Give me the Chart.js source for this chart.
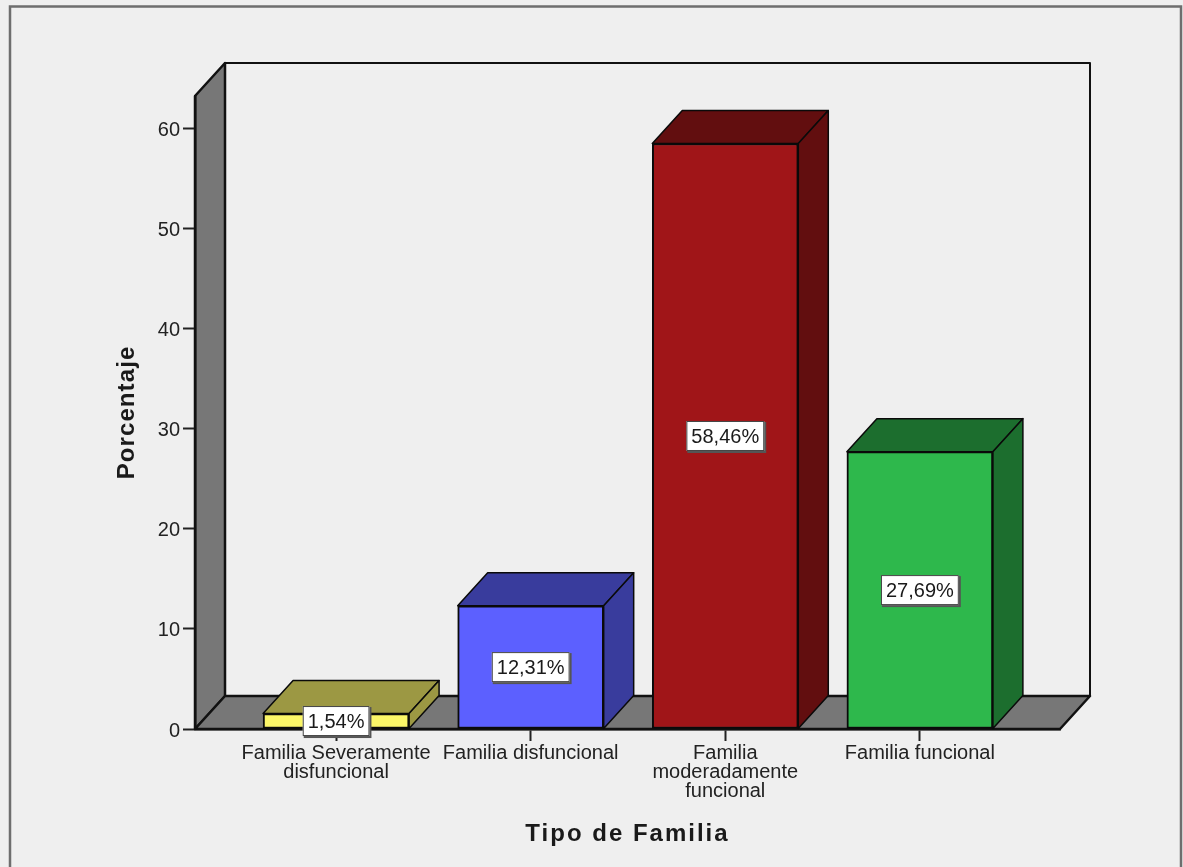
<!DOCTYPE html>
<html>
<head>
<meta charset="utf-8">
<title>Tipo de Familia</title>
<script src="https://cdn.jsdelivr.net/npm/chart.js@4"></script>
<style>
  html, body { margin: 0; background: #efefef; }
  canvas { display: block; }
</style>
</head>
<body>
<canvas id="myChart" width="1183" height="867"></canvas>
<script>
var categories = [
    ['Familia Severamente', 'disfuncional'],
    'Familia disfuncional',
    ['Familia', 'moderadamente', 'funcional'],
    'Familia funcional'
];
var porcentajes = [1.54, 12.31, 58.46, 27.69];
var etiquetas = ['1,54%', '12,31%', '58,46%', '27,69%'];
var frontColors = ['#fbf668', '#5c60ff', '#a01518', '#2eb84c'];
var darkColors = ['#9c9843', '#393c9d', '#620e0f', '#1c6e2e'];

// depth of the box, in pixels
var DX = 30;
var DY = -33;
var FONT = '"Liberation Sans", Arial, sans-serif';

function poly(ctx, pts, fill, stroke, width) {
    ctx.beginPath();
    pts.forEach(function (p, i) {
        if (i === 0) ctx.moveTo(p[0], p[1]);
        else ctx.lineTo(p[0], p[1]);
    });
    ctx.closePath();
    if (fill) {
        ctx.fillStyle = fill;
        ctx.fill();
    }
    if (stroke) {
        ctx.strokeStyle = stroke;
        ctx.lineWidth = width;
        ctx.lineJoin = 'round';
        ctx.stroke();
    }
}

// outer frame, back wall, left wall and floor
var walls = {
    id: 'walls',
    beforeDraw: function (chart) {
        var ctx = chart.ctx;
        var a = chart.chartArea;
        ctx.save();
        ctx.strokeStyle = '#6e6e6e';
        ctx.lineWidth = 2.5;
        ctx.strokeRect(10, 6.5, 1171, 900);
        poly(ctx, [[a.left + DX, a.top + DY], [a.right + DX, a.top + DY], [a.right + DX, a.bottom + DY], [a.left + DX, a.bottom + DY]], '#efefef', '#111', 2);
        poly(ctx, [[a.left, a.top], [a.left + DX, a.top + DY], [a.left + DX, a.bottom + DY], [a.left, a.bottom]], '#777777', '#111', 2.5);
        poly(ctx, [[a.left, a.bottom], [a.left + DX, a.bottom + DY], [a.right + DX, a.bottom + DY], [a.right, a.bottom]], '#777777', '#111', 2.5);
        ctx.restore();
    }
};

// top and side faces behind each bar
var boxes = {
    id: 'boxes',
    beforeDatasetsDraw: function (chart) {
        var ctx = chart.ctx;
        ctx.save();
        chart.getDatasetMeta(0).data.forEach(function (bar, i) {
            var l = bar.x - bar.width / 2;
            var r = bar.x + bar.width / 2;
            var t = bar.y;
            var b = bar.base;
            poly(ctx, [[l, t], [l + DX, t + DY], [r + DX, t + DY], [r, t]], darkColors[i], '#0a0a0a', 1.5);
            poly(ctx, [[r, t], [r + DX, t + DY], [r + DX, b + DY], [r, b]], darkColors[i], '#0a0a0a', 1.5);
        });
        ctx.restore();
    }
};

// white value boxes at the middle of each bar
var valueLabels = {
    id: 'valueLabels',
    afterDatasetsDraw: function (chart) {
        var ctx = chart.ctx;
        ctx.save();
        ctx.font = '20px ' + FONT;
        ctx.textAlign = 'center';
        ctx.textBaseline = 'middle';
        chart.getDatasetMeta(0).data.forEach(function (bar, i) {
            var w = ctx.measureText(etiquetas[i]).width + 10;
            var h = 30;
            var x = bar.x - w / 2;
            var y = (bar.y + bar.base) / 2 - h / 2;
            ctx.fillStyle = '#555';
            ctx.fillRect(x + 1, y + 1, w + 1, h + 1);
            ctx.fillStyle = '#fff';
            ctx.fillRect(x, y, w, h);
            ctx.strokeStyle = '#444';
            ctx.lineWidth = 1;
            ctx.strokeRect(x + 0.5, y + 0.5, w - 1, h - 1);
            ctx.fillStyle = '#1a1a1a';
            ctx.fillText(etiquetas[i], bar.x, y + h / 2 + 1);
        });
        ctx.restore();
    }
};

// axis titles are set with wider tracking than the tick labels
var tracking = {
    id: 'tracking',
    beforeDraw: function (chart) {
        [chart.scales.x, chart.scales.y].forEach(function (scale) {
            if (scale.trackedTitle) return;
            var drawTitle = scale.drawTitle;
            scale.drawTitle = function () {
                var ctx = chart.ctx;
                ctx.save();
                ctx.letterSpacing = scale.axis === 'x' ? '2px' : '1.1px';
                drawTitle.apply(scale, arguments);
                ctx.restore();
            };
            scale.trackedTitle = true;
        });
    }
};

var axisLine = { display: true, color: '#111', width: 2.5 };
var tickGrid = { drawOnChartArea: false, offset: false, tickLength: 12, tickColor: '#222', tickWidth: 2 };

new Chart(document.getElementById('myChart'), {
    type: 'bar',
    data: {
        datasets: [{
            data: porcentajes.map(function (v, i) { return { x: i, y: v }; }),
            backgroundColor: frontColors,
            borderColor: '#0a0a0a',
            borderWidth: 2,
            borderSkipped: false,
            barThickness: 146
        }]
    },
    plugins: [walls, boxes, valueLabels, tracking],
    options: {
        responsive: false,
        animation: false,
        layout: { padding: { top: 96, right: 123 } },
        plugins: { legend: { display: false }, tooltip: { enabled: false } },
        scales: {
            x: {
                type: 'linear',
                offset: false,
                min: -0.725,
                max: 3.72,
                border: axisLine,
                grid: tickGrid,
                afterFit: function (s) { s.height = 138; },
                ticks: {
                    stepSize: 1,
                    includeBounds: false,
                    autoSkip: false,
                    maxRotation: 0,
                    padding: 3,
                    color: '#222',
                    font: { family: FONT, size: 20, lineHeight: 0.95 },
                    callback: function (v) { return categories[v]; }
                },
                title: {
                    display: true,
                    text: 'Tipo de Familia',
                    color: '#1a1a1a',
                    font: { family: FONT, size: 24, weight: 'bold', lineHeight: 1 },
                    padding: { top: 0, bottom: 21 }
                }
            },
            y: {
                min: 0,
                max: 63.2,
                border: axisLine,
                grid: tickGrid,
                afterFit: function (s) { s.width = 195; },
                ticks: {
                    stepSize: 10,
                    includeBounds: false,
                    padding: 3,
                    labelOffset: 2,
                    color: '#222',
                    font: { family: FONT, size: 20 }
                },
                title: {
                    display: true,
                    text: 'Porcentaje',
                    color: '#1a1a1a',
                    font: { family: FONT, size: 24, weight: 'bold', lineHeight: 1 },
                    padding: { top: 115, bottom: 0 }
                }
            }
        }
    }
});
</script>
</body>
</html>
